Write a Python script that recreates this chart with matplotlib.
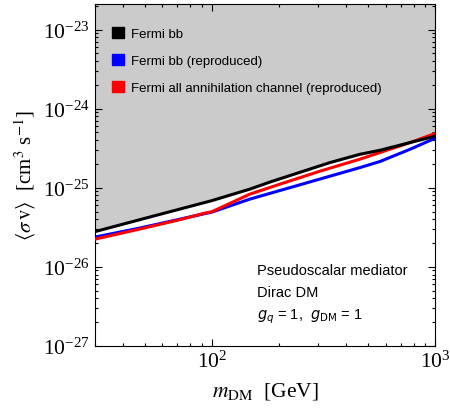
import matplotlib
matplotlib.use("Agg")
import matplotlib.pyplot as plt
from matplotlib.patches import Patch
from matplotlib.ticker import LogLocator, NullFormatter

plt.rcParams['mathtext.fontset'] = 'stix'
plt.rcParams['font.family'] = 'Liberation Sans'

# Fermi bb limit (black)
m_fermi = [30, 52.7, 100, 148, 182, 338, 461, 567, 773, 1000]
sv_fermi = [2.79e-26, 4.26e-26, 6.87e-26, 9.6e-26, 1.18e-25, 2.08e-25, 2.65e-25, 2.98e-25, 3.73e-25, 4.49e-25]

# Fermi bb reproduced (blue)
m_bb = [30, 47.5, 100, 148, 338, 461, 567, 773, 1000]
sv_bb = [2.38e-26, 3.09e-26, 4.92e-26, 7.18e-26, 1.40e-25, 1.80e-25, 2.15e-25, 3.07e-25, 4.23e-25]

# Fermi all channels reproduced (red)
m_all = [30, 47.5, 72, 93, 100, 148, 202, 305, 461, 567, 773, 1000]
sv_all = [2.24e-26, 3.0e-26, 3.95e-26, 4.78e-26, 4.97e-26, 8.3e-26, 1.11e-25, 1.62e-25,
          2.30e-25, 2.79e-25, 3.73e-25, 4.85e-25]

labels = ["Fermi bb", "Fermi bb (reproduced)", "Fermi all annihilation channel (reproduced)"]
colors = ["black", "blue", "red"]
xticks = [100, 1000]
yticks = [1e-27, 1e-26, 1e-25, 1e-24, 1e-23]

fig = plt.figure(figsize=(4.5, 4.1), dpi=100)
ax = fig.add_axes([0.211, 0.1537, 0.756, 0.834])

ax.set_xscale("log")
ax.set_yscale("log")

ax.fill_between(m_fermi, sv_fermi, 1e-22, color="#cbcbcb", lw=0, zorder=1)
ax.plot(m_fermi, sv_fermi, color="black", lw=2.2, zorder=4)
ax.plot(m_bb, sv_bb, color="blue", lw=2.2, zorder=2)
ax.plot(m_all, sv_all, color="red", lw=2.2, zorder=3)

handles = [Patch(facecolor=c, edgecolor=c) for c in colors]
ax.legend(handles, labels, loc="upper left", bbox_to_anchor=(0.05, 0.932),
          frameon=False, fontsize=9.5, handlelength=0.95, handleheight=0.92,
          handletextpad=0.5, labelspacing=1.05, borderpad=0, borderaxespad=0)

ax.text(0.475, 0.21, "Pseudoscalar mediator", transform=ax.transAxes, fontsize=10.5)
ax.text(0.475, 0.145, "Dirac DM", transform=ax.transAxes, fontsize=10.5)
ax.text(0.475, 0.082, r"$g_q$ = 1,  $g_{\rm DM}$ = 1", transform=ax.transAxes, fontsize=10.5,
        math_fontfamily='dejavusans')

ax.set_xticks(xticks)
ax.set_yticks(yticks)
ax.xaxis.set_minor_locator(LogLocator(base=10, subs=range(2, 10), numticks=20))
ax.yaxis.set_minor_locator(LogLocator(base=10, subs=range(2, 10), numticks=20))
ax.xaxis.set_minor_formatter(NullFormatter())
ax.yaxis.set_minor_formatter(NullFormatter())
ax.set_xlim(30, 1000)
ax.set_ylim(1e-27, 2.1e-23)
ax.tick_params(which="both", direction="in", top=True, right=True, width=0.8)
ax.tick_params(which="major", length=5, labelsize=15.5)
ax.tick_params(which="minor", length=2.5)
for lab in ax.get_xticklabels() + ax.get_yticklabels():
    lab.set_fontfamily("Liberation Serif")

ax.set_xlabel(r"$m_{\rm DM}$  [GeV]", fontsize=15.5, family="Liberation Serif", labelpad=6)
ax.set_ylabel(r"$\langle\sigma \, {\rm v}\rangle$  [cm$^3$ s$^{-1}$]", fontsize=15,
              family="Liberation Serif")

fig.savefig("out.png", dpi=100)
